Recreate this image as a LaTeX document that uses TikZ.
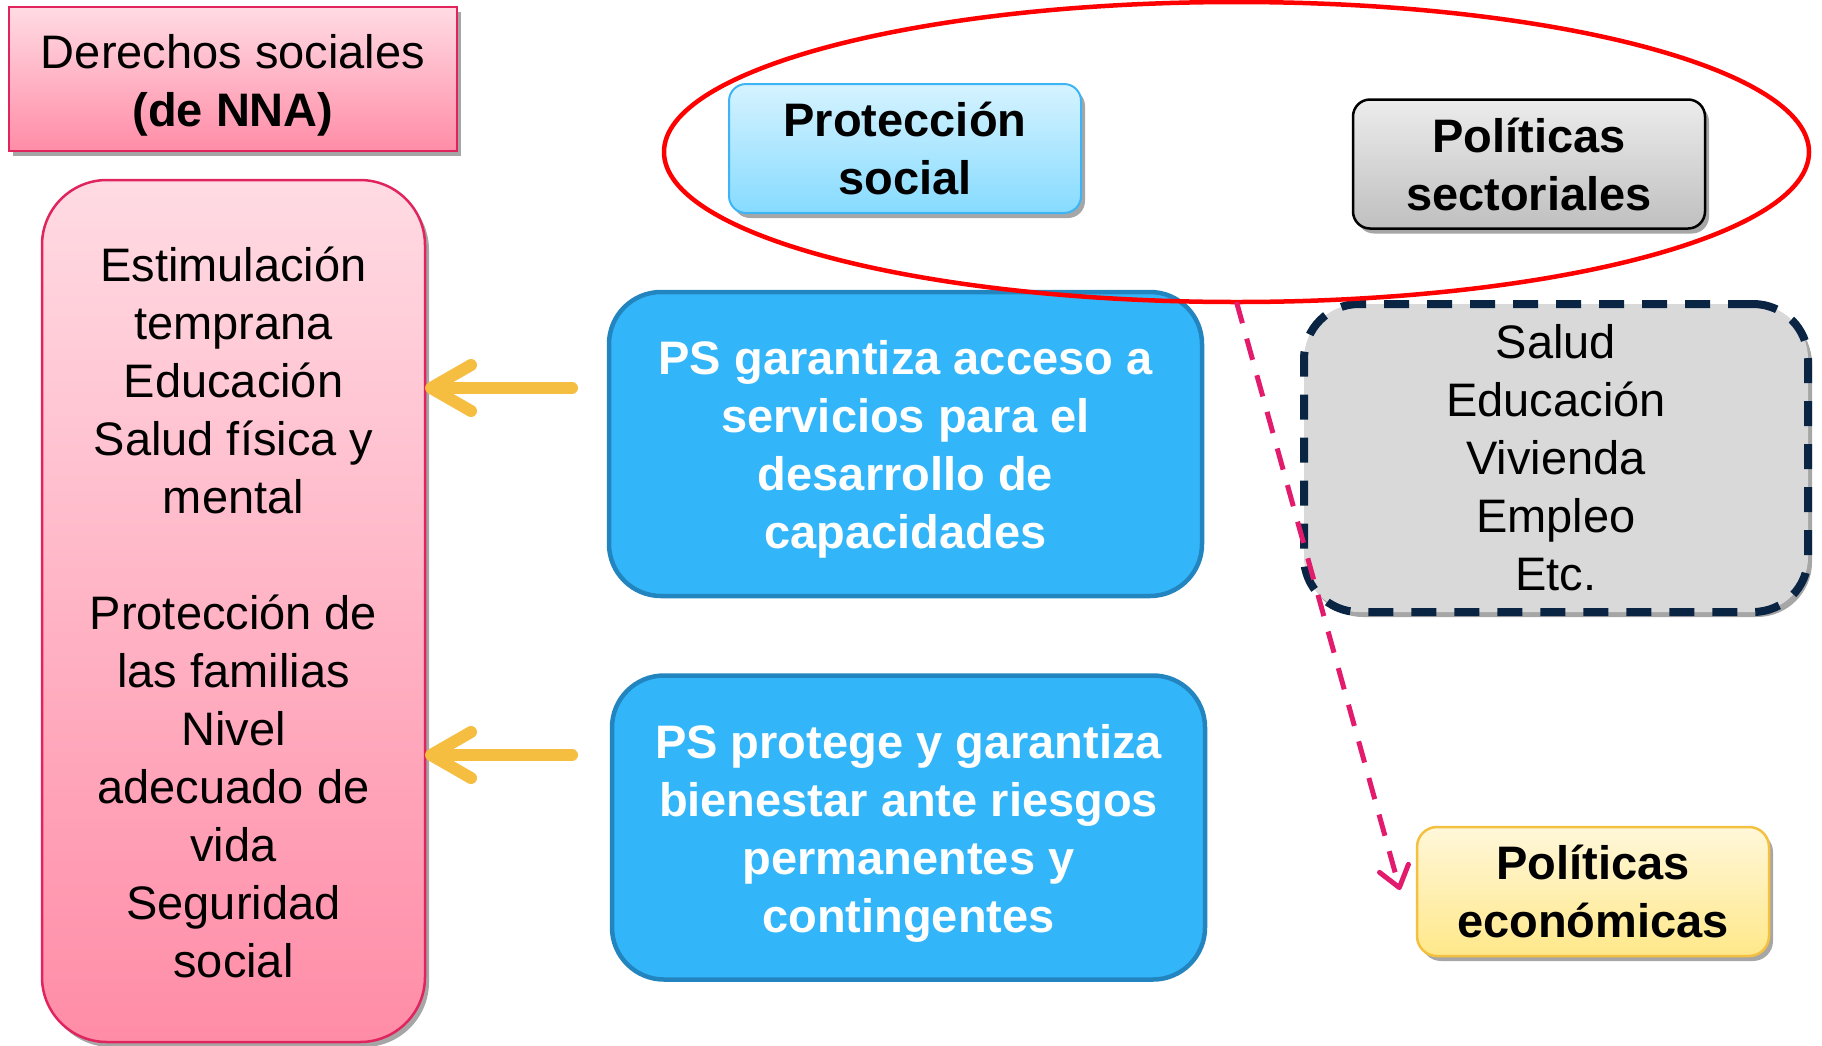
\documentclass[tikz,border=0pt]{standalone}
\usepackage{fontspec}
\setmainfont{Liberation Sans}
\usetikzlibrary{shapes.geometric,arrows.meta,shadows}
\definecolor{rosaborde}{HTML}{E0245E}
\definecolor{rosaclaro}{HTML}{FFDBE3}
\definecolor{rosaoscuro}{HTML}{FF8CA7}
\definecolor{celeste}{HTML}{D6F3FF}
\definecolor{celesteosc}{HTML}{86DBFF}
\definecolor{celesteborde}{HTML}{3DB5F5}
\definecolor{azulps}{HTML}{33B5F9}
\definecolor{azulborde}{HTML}{2385C0}
\definecolor{grisf}{HTML}{D9D9D9}
\definecolor{marino}{HTML}{0A2444}
\definecolor{oro}{HTML}{F5BE41}
\definecolor{oroborde}{HTML}{F4C040}
\definecolor{amarillo}{HTML}{FFF7D9}
\definecolor{amarilloosc}{HTML}{FFE88A}
\definecolor{fucsia}{HTML}{E31B6D}
\newcommand{\bajo}[1]{\rule{0pt}{#1}}
\begin{document}
\begin{tikzpicture}[x=1pt,y=1pt,
  texto/.style={align=center,font=\fontsize{47}{58}\selectfont,inner sep=0pt,outer sep=0pt},
  sombra/.style={drop shadow={shadow xshift=4pt,shadow yshift=-5pt,opacity=0.35,fill=black}},
  azul/.style={texto,font=\fontsize{47}{58}\selectfont\bfseries,text=white,fill=azulps,draw=azulborde,
    line width=4.5pt,rounded corners=52pt,minimum width=593pt,minimum height=304pt},
  titulo/.style={texto,font=\fontsize{47}{58}\selectfont\bfseries,rounded corners=17pt,
    minimum width=352pt,minimum height=129pt,sombra},
  oroflecha/.style={draw=oro,line width=12pt,line cap=round,-{Straight Barb[length=40pt,width=46pt,round]}}]
 \useasboundingbox (0,0) rectangle (1822,-1045);
 % derechos
 \node[texto,sombra,draw=rosaborde,line width=2.5pt,top color=rosaclaro,bottom color=rosaoscuro,
   minimum width=448pt,minimum height=144pt] (der) at (233,-79) {\bajo{46pt}Derechos sociales\\\textbf{(de NNA)}};
 \node[texto,sombra,draw=rosaborde,line width=2.5pt,top color=rosaclaro,bottom color=rosaoscuro,
   rounded corners=65pt,minimum width=383pt,minimum height=862pt] (lista) at (233.5,-611)
   {\bajo{38pt}Estimulación\\temprana\\Educación\\Salud física y\\mental\\[58pt]Protección de\\las familias\\Nivel\\adecuado de\\vida\\Seguridad\\social};
 % protección social
 \node[azul] (ps1) at (905.5,-444) {\bajo{45pt}PS garantiza acceso a\\servicios para el\\desarrollo de\\capacidades};
 \node[azul] (ps2) at (908.5,-827.5) {\bajo{45pt}PS protege y garantiza\\bienestar ante riesgos\\permanentes y\\contingentes};
 \node[titulo,draw=celesteborde,line width=2pt,top color=celeste,bottom color=celesteosc] (protsoc) at (905,-148.5) {Protección\\social};
 \node[titulo,draw=black,line width=2.5pt,top color=gray!15,bottom color=gray!50] (polsec) at (1529,-164) {Políticas\\sectoriales};
 \node[texto,sombra,fill=grisf,draw=marino,line width=8pt,dash pattern=on 25pt off 18pt,rounded corners=55pt,
   minimum width=504pt,minimum height=308pt] (sect) at (1556,-458) {Salud\\Educación\\Vivienda\\Empleo\\Etc.};
 \node[titulo,draw=oroborde,line width=2.5pt,rounded corners=20pt,top color=amarillo,bottom color=amarilloosc] (polecon) at (1593,-891.5) {Políticas\\económicas};
 \node[ellipse,draw=red,line width=4.5pt,minimum width=1145pt,minimum height=300pt,inner sep=0pt,outer sep=0pt] (grupo) at (1236.5,-152) {};
 % flechas
 \coordinate (a1) at ([shift={(-37,56)}]ps1.west);
 \coordinate (a2) at ([shift={(-40,72.5)}]ps2.west);
 \coordinate (b1) at ([shift={(-17,1.5)}]polecon.west);
 \draw[oroflecha] (a1) -- (a1 -| lista.east);
 \draw[oroflecha] (a2) -- (a2 -| lista.east);
 \draw[draw=fucsia,line width=5pt,dash pattern=on 22pt off 16pt,
   -{Straight Barb[length=20pt,width=30pt,round]}] (grupo.south) -- (b1);
\end{tikzpicture}
\end{document}
